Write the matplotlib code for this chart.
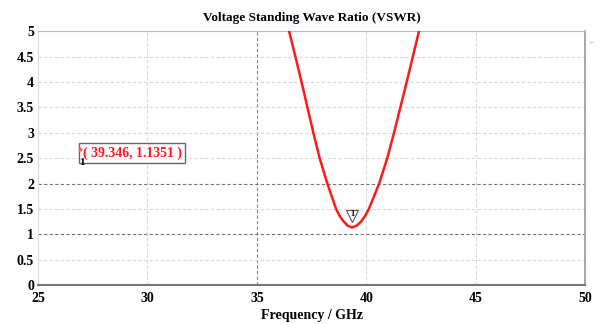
import matplotlib.pyplot as plt

# VSWR curve
freq = [36.35, 36.47, 36.76, 37.04, 37.31, 37.58, 37.87, 38.22, 38.62, 38.80,
        38.97, 39.15, 39.346, 39.56, 39.76, 39.93, 40.12, 40.59, 40.96, 41.27,
        41.56, 41.85, 42.13, 42.41, 42.5]
vswr = [5.2, 5.0, 4.5, 4.0, 3.5, 3.0, 2.5, 2.0, 1.5, 1.35,
        1.25, 1.17, 1.1351, 1.17, 1.25, 1.35, 1.5, 2.0, 2.5, 3.0,
        3.5, 4.0, 4.5, 5.0, 5.2]
marker_f = 39.346
marker_v = 1.1351
xticks = [25, 30, 35, 40, 45, 50]
yticks = [0, 0.5, 1, 1.5, 2, 2.5, 3, 3.5, 4, 4.5, 5]
ytick_labels = ["0", "0.5", "1", "1.5", "2", "2.5", "3", "3.5", "4", "4.5", "5"]

plt.rcParams['font.family'] = ['Liberation Serif', 'DejaVu Serif']

fig = plt.figure(figsize=(6.05, 3.24), dpi=100)
ax = fig.add_axes([0.063, 0.12, 0.904, 0.784])

# grid
for x in xticks[1:-1]:
    c = '#888888' if x == 35 else '#d8d8d8'
    ax.axvline(x, color=c, lw=0.8, ls=(0, (3, 2)), zorder=0)
for y in yticks[1:-1]:
    c = '#777777' if y in (1, 2) else '#d8d8d8'
    ax.axhline(y, color=c, lw=0.8, ls=(0, (3, 2)), zorder=0)

ax.plot(freq, vswr, color='#ff1a1a', lw=1.8, zorder=3, solid_joinstyle='round')

# marker triangle with number
ax.plot([marker_f], [marker_v + 0.22], marker='v', ms=8, mfc='white',
        mec='#555555', mew=0.8, zorder=4)
ax.text(marker_f, marker_v + 0.27, '1', fontsize=6, fontweight='bold',
        ha='center', va='center', zorder=5)

# marker readout box
ax.text(27.05, 2.6, '( 39.346, 1.1351 )', color='#ff1a1a', fontsize=10,
        fontweight='bold', ha='left', va='center', zorder=5,
        bbox=dict(boxstyle='square,pad=0.25', fc='white', ec='#666666', lw=1))
ax.plot([26.9], [2.68], marker='o', ms=2, color='#ff6666', zorder=6)
ax.text(27.0, 2.42, '1', fontsize=8, fontweight='bold', ha='center',
        va='center', zorder=6)

ax.set_xlim(25, 50)
ax.set_ylim(0, 5)
ax.set_xticks(xticks)
ax.set_yticks(yticks)
ax.set_yticklabels(ytick_labels)
ax.tick_params(length=0, labelsize=10)
ax.tick_params(axis='x', pad=5)
ax.tick_params(axis='y', pad=3)
for lab in ax.get_xticklabels() + ax.get_yticklabels():
    lab.set_fontweight('bold')

ax.spines['top'].set_color('#bbbbbb')
ax.spines['left'].set_color('#dddddd')
ax.spines['right'].set_color('#999999')
ax.spines['right'].set_linewidth(1.2)
ax.spines['bottom'].set_color('#777777')
ax.spines['bottom'].set_linewidth(1.5)

ax.set_title('Voltage Standing Wave Ratio (VSWR)', fontsize=9.5,
             fontweight='bold', pad=7)
ax.set_xlabel('Frequency / GHz', fontsize=10, fontweight='bold', labelpad=3)

fig.text(0.978, 0.87, '-', color='#ff8080', fontsize=8, ha='center', va='center')

plt.savefig('out.png', dpi=100)
